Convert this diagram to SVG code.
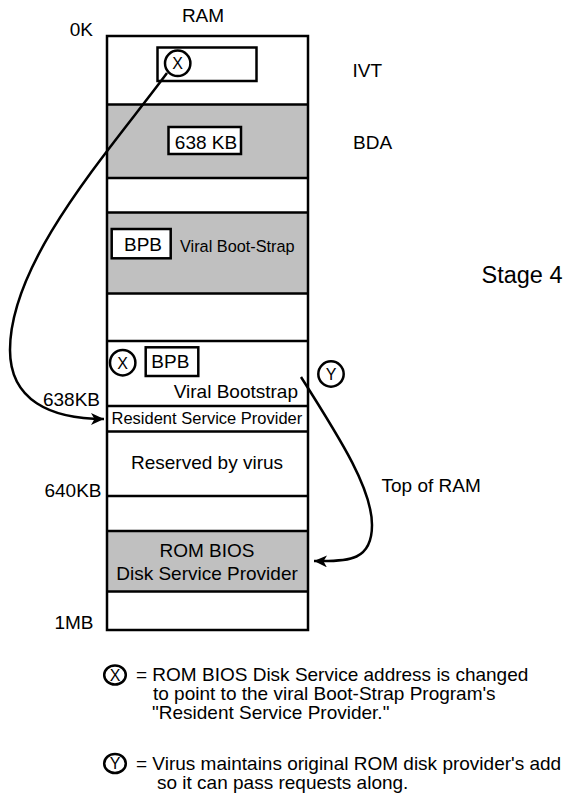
<svg xmlns="http://www.w3.org/2000/svg" width="564" height="803" viewBox="0 0 564 803">
  <style>
    text { font-family: "Liberation Sans", Arial, sans-serif; fill: #000; font-size: 19px; }
    .small { font-size: 16.5px; }
    .sym { font-size: 16px; }
    .stage { font-size: 23.5px; }
    .band { fill: #c0c0c0; stroke: none; }
    .rule { stroke: #000; stroke-width: 2.5; fill: none; }
    .frame { fill: none; stroke: #000; stroke-width: 2.5; }
    .box { fill: #fff; stroke: #000; stroke-width: 2.5; }
    .ring { fill: #fff; stroke: #000; stroke-width: 2.5; }
    .link { fill: none; stroke: #000; stroke-width: 2.5; }
  </style>
  <defs>
    <marker id="arrow" markerUnits="userSpaceOnUse" markerWidth="14" markerHeight="12" refX="13" refY="6" orient="auto">
      <path d="M0,0 L13,6 L0,12 L3.5,6 z" fill="#000"/>
    </marker>
  </defs>

  <!-- memory map column -->
  <g id="ram-map">
    <rect x="107" y="36" width="201" height="594" fill="#fff"/>
    <rect class="band" x="107" y="104.5" width="201" height="73.5"/>
    <rect class="band" x="107" y="212.5" width="201" height="81"/>
    <rect class="band" x="107" y="531" width="201" height="60.5"/>
    <path class="rule" d="M107,104.5H308 M107,178H308 M107,212.5H308 M107,293.5H308 M107,341H308 M107,406H308 M107,431.5H308 M107,496H308 M107,531H308 M107,591.5H308"/>
    <rect class="frame" x="107" y="36" width="201" height="594"/>
  </g>

  <text x="203" y="22" text-anchor="middle">RAM</text>

  <!-- address labels -->
  <g id="addresses">
    <text x="93" y="36" text-anchor="end">0K</text>
    <text x="100" y="406" text-anchor="end">638KB</text>
    <text x="101.5" y="496.5" text-anchor="end">640KB</text>
    <text x="93.5" y="628.5" text-anchor="end">1MB</text>
  </g>

  <!-- region names -->
  <text x="352.5" y="76.5">IVT</text>
  <text x="353" y="149">BDA</text>
  <text class="stage" x="481.5" y="282.5">Stage 4</text>
  <text x="381.5" y="491.5">Top of RAM</text>

  <g id="ivt-entry">
    <rect class="box" x="157.5" y="47.5" width="99" height="33.5"/>
    <circle class="ring" cx="177.7" cy="63.3" r="12.7"/>
    <text class="sym" x="177.7" y="69.3" text-anchor="middle">X</text>
  </g>

  <g id="bda-size">
    <rect class="box" x="168.5" y="127" width="72.5" height="27"/>
    <text x="206" y="148.5" text-anchor="middle">638 KB</text>
  </g>

  <g id="boot-strap-copy">
    <rect class="box" x="111.7" y="229" width="59" height="29.3"/>
    <text x="143" y="250.5" text-anchor="middle">BPB</text>
    <text x="180" y="251.5" style="font-size:16.3px">Viral Boot-Strap</text>
  </g>

  <g id="viral-bootstrap">
    <circle class="ring" cx="122.7" cy="362.7" r="12.7"/>
    <text class="sym" x="122.7" y="368.7" text-anchor="middle">X</text>
    <rect class="box" x="145.7" y="347.3" width="52.6" height="28.7"/>
    <text x="170.3" y="368" text-anchor="middle">BPB</text>
    <text x="298" y="398" text-anchor="end">Viral Bootstrap</text>
  </g>

  <g id="resident-provider">
    <text class="small" x="111.5" y="423.5">Resident Service Provider</text>
  </g>

  <g id="reserved">
    <text x="207" y="468.5" text-anchor="middle">Reserved by virus</text>
  </g>

  <g id="rom-bios">
    <text x="207" y="556.5" text-anchor="middle">ROM BIOS</text>
    <text x="207" y="580" text-anchor="middle">Disk Service Provider</text>
  </g>

  <g id="y-marker">
    <circle class="ring" cx="331" cy="374" r="12.7"/>
    <text class="sym" x="331" y="380" text-anchor="middle">Y</text>
  </g>

  <!-- connectors -->
  <g id="connectors">
    <path class="link" d="M167,73 C110,150 10,260 10,350 C10,400 50,419 104,419" marker-end="url(#arrow)"/>
    <path class="link" d="M301,377 C343,443 372,490 372,525 C372,560 350,562 314,561" marker-end="url(#arrow)"/>
  </g>

  <!-- legend -->
  <g id="legend">
    <ellipse class="ring" cx="115" cy="675" rx="10.8" ry="9.6"/>
    <text class="sym" x="115" y="680.5" text-anchor="middle">X</text>
    <text x="136" y="681">= ROM BIOS Disk Service address is changed</text>
    <text x="153" y="700">to point to the viral Boot-Strap Program's</text>
    <text x="152" y="719">"Resident Service Provider."</text>
    <ellipse class="ring" cx="115" cy="763.5" rx="10.8" ry="9.6"/>
    <text class="sym" x="115" y="769" text-anchor="middle">Y</text>
    <text x="136" y="769.5">= Virus maintains original ROM disk provider's add</text>
    <text x="157" y="788.5">so it can pass requests along.</text>
  </g>
</svg>
